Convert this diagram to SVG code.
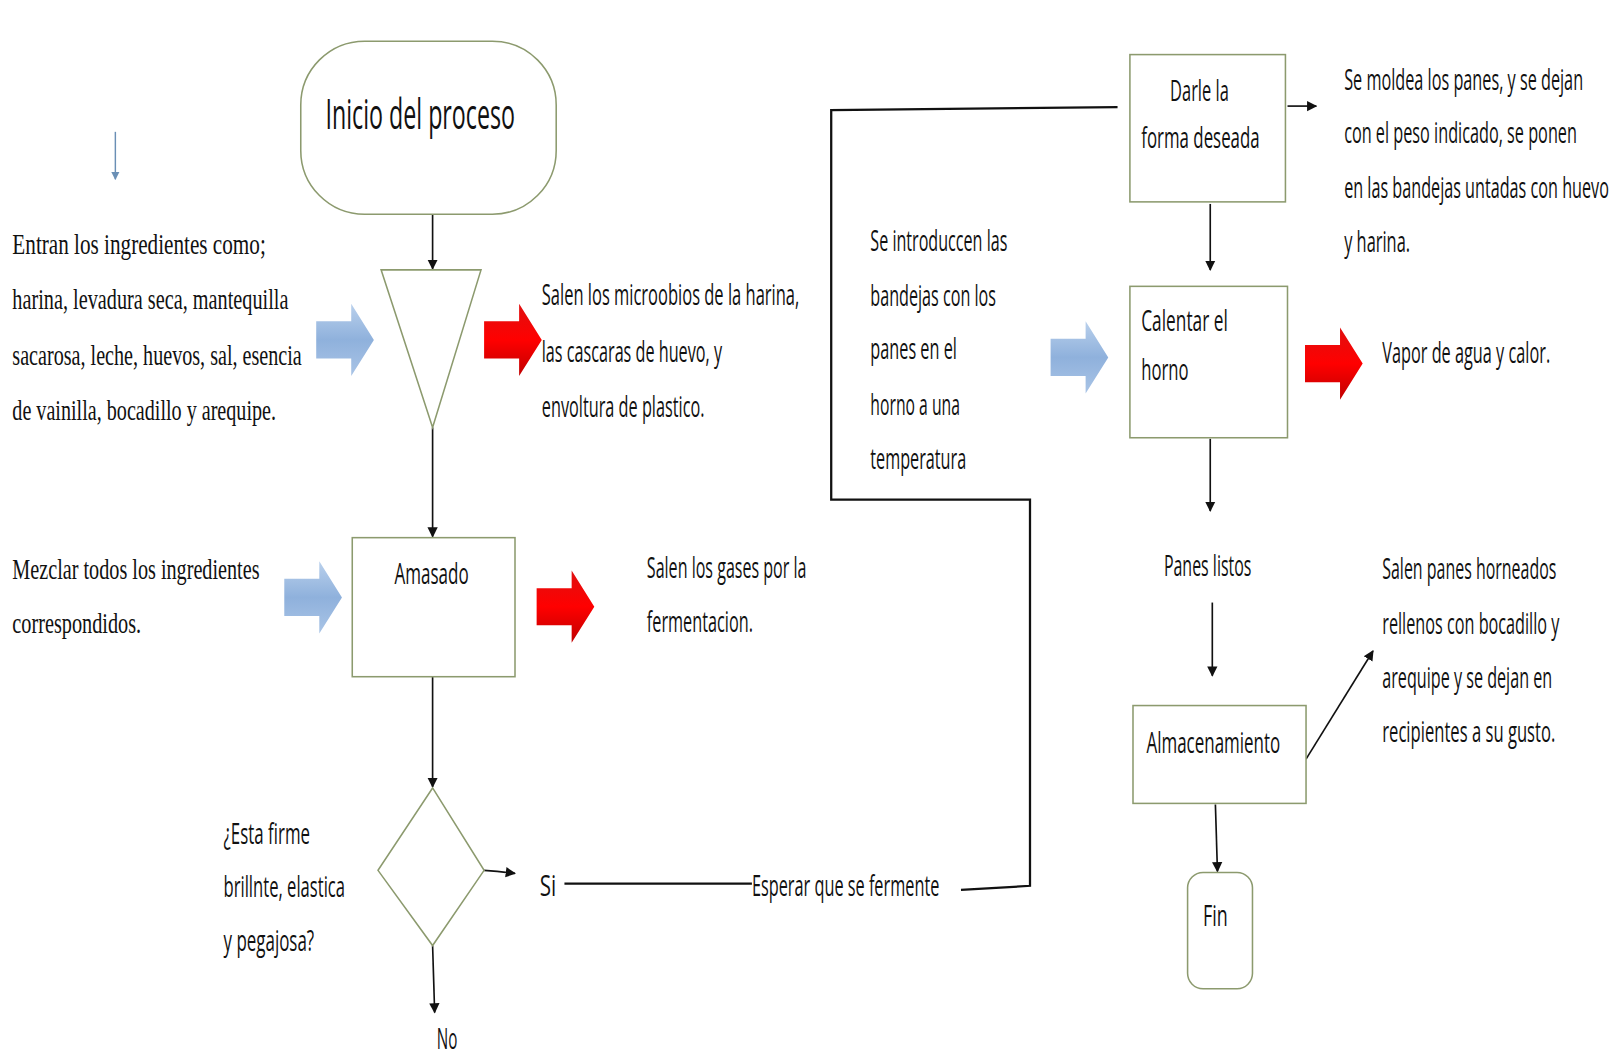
<svg xmlns="http://www.w3.org/2000/svg" width="1615" height="1061" viewBox="0 0 1615 1061">
<style>
.box{fill:#fff;stroke:#8c9a6e;stroke-width:1.5}
.ln{fill:none;stroke:#111;stroke-width:1.6}
.lnb{fill:none;stroke:#111;stroke-width:2.2}
.t{font-family:"Open Sans","Liberation Sans",sans-serif;font-size:28px;fill:#111}
.s{font-family:"Liberation Serif","DejaVu Serif",serif;font-size:29px;fill:#111}
</style>
<defs>
<marker id="ah" viewBox="0 0 10 10" refX="9" refY="5" markerWidth="10" markerHeight="11" markerUnits="userSpaceOnUse" orient="auto"><path d="M0,0 L10,5 L0,10 z" fill="#111"/></marker>
<marker id="ahs" viewBox="0 0 10 10" refX="9" refY="5" markerWidth="8" markerHeight="11" markerUnits="userSpaceOnUse" orient="auto"><path d="M0,0 L10,5 L0,10 z" fill="#6a8fb5"/></marker>
<linearGradient id="gb" x1="0" y1="0" x2="0" y2="1"><stop offset="0" stop-color="#b9d0ec"/><stop offset="0.5" stop-color="#8fb1dc"/><stop offset="1" stop-color="#a9c4e6"/></linearGradient>
<linearGradient id="gr" x1="0" y1="0" x2="0" y2="1"><stop offset="0" stop-color="#e01010"/><stop offset="0.5" stop-color="#ff0000"/><stop offset="1" stop-color="#c00000"/></linearGradient>
<path id="ba" d="M0,17 L34,17 L34,0 L56,35 L34,70 L34,53 L0,53 z"/>
</defs>
<g transform="scale(1.03)">
<g id="connectors">
<line x1="112" y1="128" x2="112" y2="174" style="stroke:#6a8fb5;stroke-width:1.4" marker-end="url(#ahs)"/>
<line class="ln" x1="420" y1="208" x2="420" y2="261" marker-end="url(#ah)"/>
<line class="ln" x1="420" y1="415" x2="420" y2="521" marker-end="url(#ah)"/>
<line class="ln" x1="420" y1="657" x2="420" y2="764" marker-end="url(#ah)"/>
<line class="ln" x1="420" y1="918" x2="422" y2="983" marker-end="url(#ah)"/>
<path class="ln" d="M470,845 Q485,846 500,848" marker-end="url(#ah)"/>
<line class="lnb" x1="548" y1="858" x2="730" y2="858"/>
<polyline class="lnb" points="933,864 1000,860 1000,485 807,485 807,107 1085,104"/>
<line class="ln" x1="1250" y1="103" x2="1278" y2="103" marker-end="url(#ah)"/>
<line class="ln" x1="1175" y1="198" x2="1175" y2="262" marker-end="url(#ah)"/>
<line class="ln" x1="1175" y1="426" x2="1175" y2="496" marker-end="url(#ah)"/>
<line class="ln" x1="1177" y1="585" x2="1177" y2="656" marker-end="url(#ah)"/>
<line class="ln" x1="1268" y1="737" x2="1333" y2="632" marker-end="url(#ah)"/>
<line class="ln" x1="1180" y1="781" x2="1182" y2="846" marker-end="url(#ah)"/>
</g>

<g id="flow-arrows">
<use href="#ba" x="307" y="295" fill="url(#gb)"/>
<use href="#ba" x="470" y="295" fill="url(#gr)"/>
<use href="#ba" x="276" y="545" fill="url(#gb)"/>
<use href="#ba" x="521" y="554" fill="url(#gr)"/>
<use href="#ba" x="1020" y="312" fill="url(#gb)"/>
<use href="#ba" x="1267" y="318" fill="url(#gr)"/>
</g>

<g id="inicio">
<rect class="box" x="292" y="40" width="248" height="168" rx="62" ry="62"/>
<text class="t" transform="translate(316,125) scale(0.55,1)" style="font-size:41px" textLength="334.5" lengthAdjust="spacingAndGlyphs">Inicio del proceso</text>
</g>

<g id="entrada-ingredientes">
<text class="s" transform="translate(12,247) scale(0.65,1)" textLength="378.5" lengthAdjust="spacingAndGlyphs">Entran los ingredientes como;</text>
<text class="s" transform="translate(12,300) scale(0.65,1)" textLength="412.3" lengthAdjust="spacingAndGlyphs">harina, levadura seca, mantequilla</text>
<text class="s" transform="translate(12,354) scale(0.65,1)" textLength="432.3" lengthAdjust="spacingAndGlyphs">sacarosa, leche, huevos, sal, esencia</text>
<text class="s" transform="translate(12,408) scale(0.65,1)" textLength="393.8" lengthAdjust="spacingAndGlyphs">de vainilla, bocadillo y arequipe.</text>
</g>

<g id="seleccion">
<polygon class="box" points="370,262 467,262 420,415"/>
</g>

<g id="salida-microbios">
<text class="t" transform="translate(526,296) scale(0.55,1)" textLength="454.5" lengthAdjust="spacingAndGlyphs">Salen los microobios de la harina,</text>
<text class="t" transform="translate(526,351) scale(0.55,1)" textLength="318.2" lengthAdjust="spacingAndGlyphs">las cascaras de huevo, y</text>
<text class="t" transform="translate(526,405) scale(0.55,1)" textLength="287.3" lengthAdjust="spacingAndGlyphs">envoltura de plastico.</text>
</g>

<g id="mezclar">
<text class="s" transform="translate(12,562) scale(0.65,1)" textLength="369.2" lengthAdjust="spacingAndGlyphs">Mezclar todos los ingredientes</text>
<text class="s" transform="translate(12,615) scale(0.65,1)" textLength="192.3" lengthAdjust="spacingAndGlyphs">correspondidos.</text>
</g>

<g id="amasado">
<rect class="box" x="342" y="522" width="158" height="135"/>
<text class="t" transform="translate(383,567) scale(0.55,1)" textLength="130.9" lengthAdjust="spacingAndGlyphs">Amasado</text>
</g>

<g id="salida-gases">
<text class="t" transform="translate(628,561) scale(0.55,1)" textLength="281.8" lengthAdjust="spacingAndGlyphs">Salen los gases por la</text>
<text class="t" transform="translate(628,614) scale(0.55,1)" textLength="187.3" lengthAdjust="spacingAndGlyphs">fermentacion.</text>
</g>

<g id="decision">
<polygon class="box" points="420,765 470,845 420,918 367,845"/>
<text class="t" transform="translate(217,819) scale(0.55,1)" textLength="152.7" lengthAdjust="spacingAndGlyphs">¿Esta firme</text>
<text class="t" transform="translate(217,871) scale(0.55,1)" textLength="214.5" lengthAdjust="spacingAndGlyphs">brillnte, elastica</text>
<text class="t" transform="translate(217,923) scale(0.55,1)" textLength="160" lengthAdjust="spacingAndGlyphs">y pegajosa?</text>
</g>

<g id="si"><text class="t" transform="translate(524,870) scale(0.55,1)" textLength="29.1" lengthAdjust="spacingAndGlyphs">Si</text></g>
<g id="no"><text class="t" transform="translate(424,1018) scale(0.55,1)" textLength="36.4" lengthAdjust="spacingAndGlyphs">No</text></g>
<g id="esperar"><text class="t" transform="translate(730,870) scale(0.55,1)" textLength="330.9" lengthAdjust="spacingAndGlyphs">Esperar que se fermente</text></g>

<g id="introducir">
<text class="t" transform="translate(845,244) scale(0.55,1)" textLength="241.8" lengthAdjust="spacingAndGlyphs">Se introduccen las</text>
<text class="t" transform="translate(845,297) scale(0.55,1)" textLength="221.8" lengthAdjust="spacingAndGlyphs">bandejas con los</text>
<text class="t" transform="translate(845,349) scale(0.55,1)" textLength="152.7" lengthAdjust="spacingAndGlyphs">panes en el</text>
<text class="t" transform="translate(845,403) scale(0.55,1)" textLength="158.2" lengthAdjust="spacingAndGlyphs">horno a una</text>
<text class="t" transform="translate(845,455) scale(0.55,1)" textLength="169.1" lengthAdjust="spacingAndGlyphs">temperatura</text>
</g>

<g id="darle-forma">
<rect class="box" x="1097" y="53" width="151" height="143"/>
<text class="t" transform="translate(1136,98) scale(0.55,1)" textLength="103.6" lengthAdjust="spacingAndGlyphs">Darle la</text>
<text class="t" transform="translate(1108,144) scale(0.55,1)" textLength="209.1" lengthAdjust="spacingAndGlyphs">forma deseada</text>
</g>

<g id="moldear">
<text class="t" transform="translate(1305,87) scale(0.55,1)" textLength="421.8" lengthAdjust="spacingAndGlyphs">Se moldea los panes, y se dejan</text>
<text class="t" transform="translate(1305,139) scale(0.55,1)" textLength="410.9" lengthAdjust="spacingAndGlyphs">con el peso indicado, se ponen</text>
<text class="t" transform="translate(1305,192) scale(0.55,1)" textLength="467.3" lengthAdjust="spacingAndGlyphs">en las bandejas untadas con huevo</text>
<text class="t" transform="translate(1305,245) scale(0.55,1)" textLength="116.4" lengthAdjust="spacingAndGlyphs">y harina.</text>
</g>

<g id="calentar">
<rect class="box" x="1097" y="278" width="153" height="147"/>
<text class="t" transform="translate(1108,321) scale(0.55,1)" textLength="152.7" lengthAdjust="spacingAndGlyphs">Calentar el</text>
<text class="t" transform="translate(1108,369) scale(0.55,1)" textLength="83.6" lengthAdjust="spacingAndGlyphs">horno</text>
</g>

<g id="vapor"><text class="t" transform="translate(1342,352) scale(0.55,1)" textLength="296.4" lengthAdjust="spacingAndGlyphs">Vapor de agua y calor.</text></g>

<g id="panes-listos"><text class="t" transform="translate(1130,559) scale(0.55,1)" textLength="154.5" lengthAdjust="spacingAndGlyphs">Panes listos</text></g>

<g id="almacenamiento">
<rect class="box" x="1100" y="685" width="168" height="95"/>
<text class="t" transform="translate(1113,731) scale(0.55,1)" textLength="236.4" lengthAdjust="spacingAndGlyphs">Almacenamiento</text>
</g>

<g id="salen-panes">
<text class="t" transform="translate(1342,562) scale(0.55,1)" textLength="307.3" lengthAdjust="spacingAndGlyphs">Salen panes horneados</text>
<text class="t" transform="translate(1342,616) scale(0.55,1)" textLength="312.7" lengthAdjust="spacingAndGlyphs">rellenos con bocadillo y</text>
<text class="t" transform="translate(1342,668) scale(0.55,1)" textLength="300" lengthAdjust="spacingAndGlyphs">arequipe y se dejan en</text>
<text class="t" transform="translate(1342,720) scale(0.55,1)" textLength="305.5" lengthAdjust="spacingAndGlyphs">recipientes  a su gusto.</text>
</g>

<g id="fin">
<rect class="box" x="1153" y="847" width="63" height="113" rx="15" ry="15"/>
<text class="t" transform="translate(1168,899) scale(0.55,1)" textLength="43.6" lengthAdjust="spacingAndGlyphs">Fin</text>
</g>
</g>
</svg>
